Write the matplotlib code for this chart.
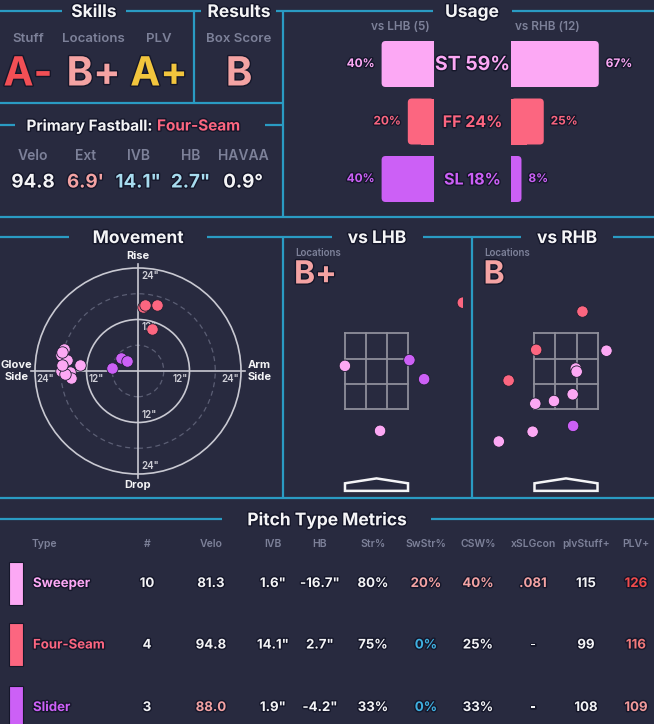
import matplotlib
matplotlib.use('Agg')
import matplotlib.pyplot as plt
import matplotlib.patheffects as pe
from matplotlib.patches import Circle, Polygon, Rectangle, FancyBboxPatch

BG = '#282a3f'
LINE = '#2a9bc3'
GRAY = '#7d8199'
WHITE = '#f4f4f6'
SALMON = '#f4a3a3'
LIGHT_BLUE = '#a8dcef'
BLUE = '#3fb0e0'
RED = '#f24f55'
YELLOW = '#f2c53d'

plt.rcParams['font.family'] = ['Inter', 'DejaVu Sans']

# pitch types
pitch_names = ['Sweeper', 'Four-Seam', 'Slider']
pitch_codes = ['ST', 'FF', 'SL']
pitch_colors = ['#fca8f4', '#fc6680', '#cc60f6']

# skills / results
skill_labels = ['Stuff', 'Locations', 'PLV']
skill_grades = ['A-', 'B+', 'A+']
skill_colors = [RED, SALMON, YELLOW]
box_score_grade = 'B'

# primary fastball
fb_name = 'Four-Seam'
fb_labels = ['Velo', 'Ext', 'IVB', 'HB', 'HAVAA']
fb_values = ['94.8', "6.9'", '14.1"', '2.7"', '0.9°']
fb_colors = [WHITE, SALMON, LIGHT_BLUE, LIGHT_BLUE, WHITE]

# usage
usage_total = [59, 24, 18]
usage_lhb = [40, 20, 40]
usage_rhb = [67, 25, 8]
n_lhb = 5
n_rhb = 12

# movement (inches): horizontal break, induced vertical break
mov_hb = [
    [-17.2, -18.0, -16.5, -13.5, -18.0, -15.9, -15.6, -17.6, -17.0, -17.7],
    [1.1, 1.7, 4.4, 3.2],
    [-6.1, -4.0, -2.5],
]
mov_ivb = [
    [5.1, 3.7, 2.6, 1.4, 0.1, -0.2, -1.7, 4.5, -0.8, 1.3],
    [15.0, 15.3, 15.4, 9.9],
    [0.8, 3.0, 2.3],
]

# locations (feet): plate_x, plate_z, pitch index
loc_grades = ['B+', 'B']
lhb_x = [-0.71, 0.08, 1.94, 0.74, 1.07]
lhb_z = [2.57, 1.11, 3.99, 2.70, 2.27]
lhb_type = [0, 0, 1, 2, 2]
rhb_x = [0.91, 0.22, 0.24, 0.15, -0.27, -0.69, -0.75, -1.51, 0.37, -0.67, -1.29, 0.16]
rhb_z = [2.91, 2.51, 2.44, 1.93, 1.78, 1.72, 1.09, 0.87, 3.79, 2.93, 2.24, 1.22]
rhb_type = [0, 0, 0, 0, 0, 0, 0, 0, 1, 1, 1, 2]
sz_bot, sz_top = 1.6, 3.3

# pitch type metrics table
tbl_headers = ['#', 'Velo', 'IVB', 'HB', 'Str%', 'SwStr%', 'CSW%', 'xSLGcon', 'plvStuff+', 'PLV+']
tbl_count = ['10', '4', '3']
tbl_velo = ['81.3', '94.8', '88.0']
tbl_ivb = ['1.6"', '14.1"', '1.9"']
tbl_hb = ['-16.7"', '2.7"', '-4.2"']
tbl_str = ['80%', '75%', '33%']
tbl_swstr = ['20%', '0%', '0%']
tbl_csw = ['40%', '25%', '33%']
tbl_xslg = ['.081', '-', '-']
tbl_stuff = ['115', '99', '108']
tbl_plv = ['126', '116', '109']
tbl_colors = [
    [WHITE, WHITE, WHITE, WHITE, WHITE, SALMON, SALMON, SALMON, WHITE, '#f24b4b'],
    [WHITE, WHITE, WHITE, WHITE, WHITE, BLUE, WHITE, WHITE, WHITE, '#f27a7a'],
    [WHITE, SALMON, WHITE, WHITE, WHITE, BLUE, WHITE, WHITE, WHITE, '#f39a9a'],
]

W, H = 654, 724
STROKE = [pe.withStroke(linewidth=2, foreground='#15172a')]

fig = plt.figure(figsize=(W / 100, H / 100), dpi=100)
fig.patch.set_facecolor(BG)
bg = fig.add_axes([0, 0, 1, 1])
bg.set_xlim(0, W)
bg.set_ylim(H, 0)
bg.axis('off')


def px_axes(x0, y0, x1, y1):
    ax = fig.add_axes([x0 / W, 1 - y1 / H, (x1 - x0) / W, (y1 - y0) / H])
    ax.set_facecolor('none')
    ax.axis('off')
    return ax


def hline(y, x0, x1):
    bg.plot([x0, x1], [y, y], color=LINE, lw=1.6, solid_capstyle='butt')


def vline(x, y0, y1):
    bg.plot([x, x], [y0, y1], color=LINE, lw=1.6, solid_capstyle='butt')


def title(x, y, s, size=12.5):
    bg.text(x, y + 1.5, s, ha='center', va='center', fontsize=size, fontweight='bold',
            color=WHITE, path_effects=STROKE)


# ---- frame lines ----
hline(11, 0, 62); hline(11, 126, 201); hline(11, 276, 433); hline(11, 512, W)
vline(194, 11, 103); vline(283, 11, 217)
hline(103, 0, 283)
hline(125, 0, 15); hline(125, 265, 283)
hline(217, 0, W)
hline(237, 0, 69); hline(237, 207, 332); hline(237, 423, 521); hline(237, 613, W)
vline(283, 237, 498); vline(472, 237, 498)
hline(498, 0, W)
hline(519, 0, 222); hline(519, 431, W)

title(94, 11, 'Skills')
title(239, 11, 'Results')
title(472, 11, 'Usage')
title(138, 237, 'Movement')
title(377, 237, 'vs LHB')
title(567, 237, 'vs RHB')
title(327, 519, 'Pitch Type Metrics')

# ---- skills ----
for i, (lab, grade, col) in enumerate(zip(skill_labels, skill_grades, skill_colors)):
    x = 28 + 65.5 * i
    bg.text(x, 39, lab, ha='center', va='center', fontsize=9.5, fontweight='semibold', color=GRAY)
    bg.text(x, 75, grade, ha='center', va='center', fontsize=29, fontweight='bold', color=col,
            path_effects=STROKE)
bg.text(239, 39, 'Box Score', ha='center', va='center', fontsize=9.5, fontweight='semibold', color=GRAY)
bg.text(239, 75, box_score_grade, ha='center', va='center', fontsize=29, fontweight='bold',
        color=SALMON, path_effects=STROKE)

# ---- primary fastball ----
bg.text(153, 126, 'Primary Fastball:', ha='right', va='center', fontsize=11, fontweight='bold',
        color=WHITE, path_effects=STROKE)
bg.text(157, 126, fb_name, ha='left', va='center', fontsize=11, fontweight='bold',
        color=pitch_colors[1], path_effects=STROKE)
for i, (lab, val, col) in enumerate(zip(fb_labels, fb_values, fb_colors)):
    x = 33 + 52.5 * i
    bg.text(x, 156, lab, ha='center', va='center', fontsize=10, fontweight='semibold', color=GRAY)
    bg.text(x, 183, val, ha='center', va='center', fontsize=13.5, fontweight='bold', color=col,
            path_effects=STROKE)

# ---- usage ----
bg.text(400, 27, f'vs LHB ({n_lhb})', ha='center', va='center', fontsize=8.5, fontweight='semibold', color=GRAY)
bg.text(547, 27, f'vs RHB ({n_rhb})', ha='center', va='center', fontsize=8.5, fontweight='semibold', color=GRAY)

ax_l = px_axes(303, 35.25, 434, 207.75)
ax_r = px_axes(511, 35.25, 642, 207.75)
ax_l.set_xlim(100, 0)
ax_r.set_xlim(0, 100)
rows = range(len(pitch_codes))
rx = 4 / 1.31          # corner radius in percent units (4 px)
asp = (4 / 57.5) / rx  # vertical / horizontal data scale
for ax, vals, side in ((ax_l, usage_lhb, -1), (ax_r, usage_rhb, 1)):
    ax.set_ylim(2.5, -0.5)
    for i, v in enumerate(vals):
        ax.add_patch(FancyBboxPatch((0, i - 0.4), v, 0.8,
                                    boxstyle=f'round,pad=0,rounding_size={rx}',
                                    mutation_aspect=asp, fc=pitch_colors[i], ec='none'))
        ax.add_patch(Rectangle((0, i - 0.4), v / 2, 0.8, fc=pitch_colors[i], ec='none'))
        ax.annotate(f'{v}%', (v, i), xytext=(5 * side, 0), textcoords='offset points',
                    ha='left' if side > 0 else 'right', va='center', fontsize=8.5,
                    fontweight='bold', color=pitch_colors[i], path_effects=STROKE)
center_sizes = [14, 11.5, 11.5]
for i, (code, pct) in enumerate(zip(pitch_codes, usage_total)):
    bg.text(472.5, 65 + 57.5 * i, f'{code} {pct}%', ha='center', va='center',
            fontsize=center_sizes[i], fontweight='bold', color=pitch_colors[i], path_effects=STROKE)

# ---- movement ----
mx, my, ms = 138, 371, 103 / 24
ax_m = px_axes(mx - 30 * ms, my - 30 * ms, mx + 30 * ms, my + 30 * ms)
ax_m.set_xlim(-30, 30)
ax_m.set_ylim(-30, 30)
RING = '#c9c9d2'
for r in (12, 24):
    ax_m.add_patch(Circle((0, 0), r, fill=False, ec=RING, lw=1.2))
for r in (6, 18):
    ax_m.add_patch(Circle((0, 0), r, fill=False, ec='#5b5e74', lw=0.9, ls=(0, (4, 3))))
ax_m.plot([-25, 25], [0, 0], color=RING, lw=1.2)
ax_m.plot([0, 0], [-25, 25], color=RING, lw=1.2)
tk = dict(fontsize=7, color='#d0d0d8', fontweight='semibold')
ax_m.text(-23.6, -0.8, '24"', ha='left', va='top', **tk)
ax_m.text(-11.6, -0.8, '12"', ha='left', va='top', **tk)
ax_m.text(11.6, -0.8, '12"', ha='right', va='top', **tk)
ax_m.text(23.6, -0.8, '24"', ha='right', va='top', **tk)
ax_m.text(0.8, 23.4, '24"', ha='left', va='top', **tk)
ax_m.text(0.8, 11.4, '12"', ha='left', va='top', **tk)
ax_m.text(0.8, -11.4, '12"', ha='left', va='bottom', **tk)
ax_m.text(0.8, -23.4, '24"', ha='left', va='bottom', **tk)
lab = dict(fontsize=8, color=WHITE, fontweight='bold', ha='center', va='center')
ax_m.text(0, 26.8, 'Rise', **lab)
ax_m.text(0, -26.6, 'Drop', **lab)
ax_m.text(-28.4, 0, 'Glove\nSide', linespacing=1.2, **lab)
ax_m.text(28.3, 0, 'Arm\nSide', linespacing=1.2, **lab)
for i in rows:
    ax_m.scatter(mov_hb[i], mov_ivb[i], s=68, color=pitch_colors[i], edgecolors='#1d1f30',
                 linewidths=0.6, zorder=3)


# ---- locations ----
def zone_axes(x0, xs, zs, types, grade):
    ax = px_axes(x0, 285, x0 + 173, 495)
    ax.set_xlim(-1.944, 1.944)
    ax.set_ylim(-0.333, 4.387)
    half = 17 / 24
    zc = '#8e8e9a'
    for k in range(4):
        xx = -half + k * 2 * half / 3
        zz = sz_bot + k * (sz_top - sz_bot) / 3
        ax.plot([xx, xx], [sz_bot, sz_top], color=zc, lw=1.3)
        ax.plot([-half, half], [zz, zz], color=zc, lw=1.3)
    ax.add_patch(Polygon([(-half, -0.24), (half, -0.24), (half, -0.07), (0, 0.04), (-half, -0.07)],
                         closed=True, fill=False, ec=WHITE, lw=1.8))
    ax.scatter(xs, zs, s=68, color=[pitch_colors[t] for t in types], edgecolors='#1d1f30',
               linewidths=0.6, zorder=3)
    bg.text(x0 + 5, 253, 'Locations', ha='left', va='center', fontsize=7, fontweight='semibold', color=GRAY)
    bg.text(x0 + 4, 275, grade, ha='left', va='center', fontsize=23, fontweight='bold', color=SALMON,
            path_effects=STROKE)


zone_axes(290, lhb_x, lhb_z, lhb_type, loc_grades[0])
zone_axes(479.5, rhb_x, rhb_z, rhb_type, loc_grades[1])

# ---- pitch type metrics ----
col_x = [147, 211, 273, 320, 373, 426, 478, 533, 586, 636]
bg.text(32, 544, 'Type', ha='left', va='center', fontsize=7.5, fontweight='semibold', color=GRAY)
for x, h in zip(col_x, tbl_headers):
    bg.text(x, 544, h, ha='center', va='center', fontsize=7.5, fontweight='semibold', color=GRAY)
columns = [tbl_count, tbl_velo, tbl_ivb, tbl_hb, tbl_str, tbl_swstr, tbl_csw, tbl_xslg, tbl_stuff, tbl_plv]
row_y = [583, 644.5, 707]
for i, name in enumerate(pitch_names):
    y = row_y[i]
    bg.add_patch(Rectangle((9, y - 21.5), 14, 43, fc=pitch_colors[i], ec='#15172a', lw=0.8))
    bg.text(33, y + 1, name, ha='left', va='center', fontsize=9.5, fontweight='bold',
            color=pitch_colors[i], path_effects=STROKE)
    for j, (x, col) in enumerate(zip(col_x, columns)):
        bg.text(x, y + 1, col[i], ha='center', va='center', fontsize=9.5, fontweight='bold',
                color=tbl_colors[i][j], path_effects=STROKE)

fig.savefig('out.png', dpi=100, facecolor=BG)
